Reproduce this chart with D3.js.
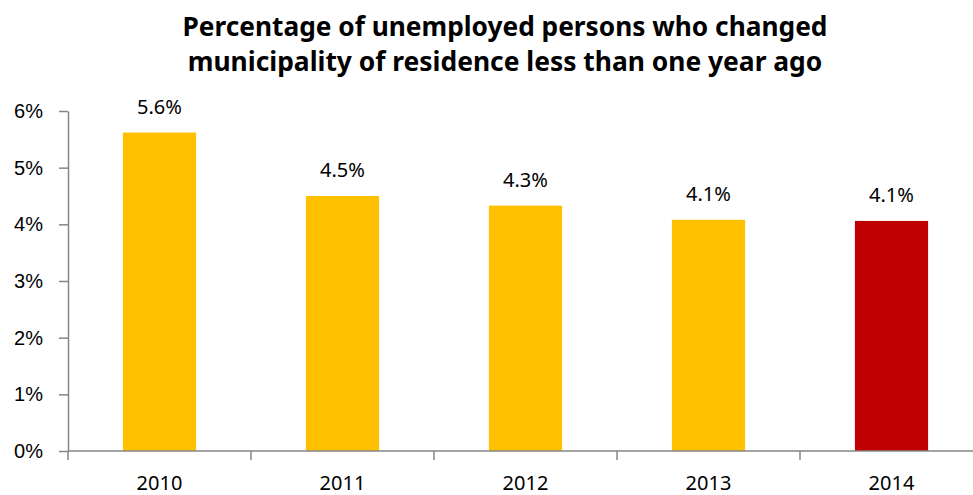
<!DOCTYPE html>
<html>
<head>
<meta charset="utf-8">
<script src="https://cdn.jsdelivr.net/npm/d3@7"></script>
<style>
  html, body { margin: 0; padding: 0; background: #fff; }
  svg { display: block; font-family: "Noto Sans", "Open Sans", sans-serif; }
  .axis path, .axis line { stroke: #868686; stroke-width: 1.5; }
  .axis text { fill: #000; font-size: 20px; }
</style>
</head>
<body>
<svg id="chart" width="973" height="495"></svg>
<script>
// data
const years = ["2010", "2011", "2012", "2013", "2014"];
const shares = [5.62, 4.5, 4.33, 4.08, 4.06];
const barColors = ["#FFC000", "#FFC000", "#FFC000", "#FFC000", "#C00000"];
const yTicks = [0, 1, 2, 3, 4, 5, 6];
const titleLines = [
    "Percentage of unemployed persons who changed",
    "municipality of residence less than one year ago"
];

const cfg = {
    left: 68, right: 983, top: 111, bottom: 451,
    titleX: 505, titleY: [36, 71], titleW: [645, 635]
};

const svg = d3.select("#chart");

const x = d3.scaleBand().domain(years).range([cfg.left, cfg.right])
    .paddingInner(0.6).paddingOuter(0.3);
const y = d3.scaleLinear().domain([0, 6]).range([cfg.bottom, cfg.top]);

// title, fitted to the width seen in the reference
titleLines.forEach((t, i) => {
    const txt = svg.append("text")
        .attr("x", cfg.titleX).attr("y", cfg.titleY[i])
        .attr("text-anchor", "middle")
        .attr("font-weight", "bold")
        .attr("font-size", 24)
        .text(t);
    const w = txt.node().getComputedTextLength();
    txt.attr("font-size", 24 * cfg.titleW[i] / w);
});

// y axis
svg.append("g").attr("class", "axis")
    .attr("transform", `translate(${cfg.left},0)`)
    .call(d3.axisLeft(y).tickValues(yTicks).tickSize(9).tickSizeOuter(0)
        .tickPadding(16).tickFormat(d => d + "%"));

// bars
svg.append("g").selectAll("rect").data(years).join("rect")
    .attr("x", d => x(d))
    .attr("width", x.bandwidth())
    .attr("y", (d, i) => y(shares[i]))
    .attr("height", (d, i) => y(0) - y(shares[i]))
    .attr("fill", (d, i) => barColors[i]);

// x axis: ticks between categories, like a spreadsheet chart
const bandStep = x.step();
const xEdges = d3.range(years.length + 1).map(i => cfg.left + i * bandStep);
const xAxis = svg.append("g").attr("class", "axis");
xAxis.append("line")
    .attr("x1", cfg.left).attr("x2", cfg.right)
    .attr("y1", y(0)).attr("y2", y(0));
xAxis.selectAll("line.tk").data(xEdges).join("line").attr("class", "tk")
    .attr("x1", d => d).attr("x2", d => d)
    .attr("y1", y(0)).attr("y2", y(0) + 9);
xAxis.selectAll("text").data(years).join("text")
    .attr("x", d => x(d) + x.bandwidth() / 2)
    .attr("y", 490)
    .attr("text-anchor", "middle")
    .text(d => d);

// value labels
svg.append("g").selectAll("text").data(years).join("text")
    .attr("x", d => x(d) + x.bandwidth() / 2)
    .attr("y", (d, i) => y(shares[i]) - 19)
    .attr("text-anchor", "middle")
    .attr("font-size", 20)
    .text((d, i) => shares[i].toFixed(1) + "%");
</script>
</body>
</html>
